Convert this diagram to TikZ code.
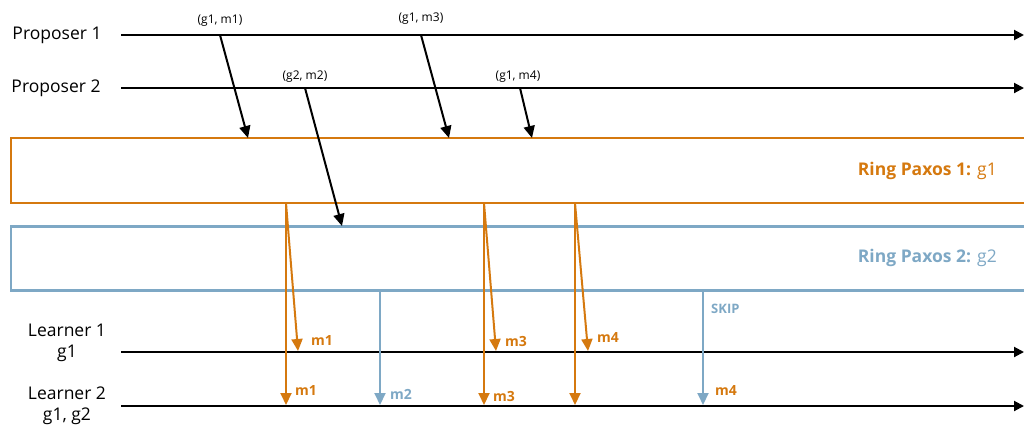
\documentclass[tikz,border=0pt]{standalone}
\usepackage{fontspec}
\setmainfont{Open Sans}
\usetikzlibrary{arrows.meta}
\definecolor{ringorange}{HTML}{D5790F}
\definecolor{ringblue}{HTML}{7EA8C5}
\begin{document}
\begin{tikzpicture}[x=1pt,y=-1pt,
  timeline/.style={line width=2pt,black,-{Triangle[length=10pt,width=10pt]}},
  msg/.style={line width=2pt,black,-{Triangle[length=12pt,width=11pt]}},
  omsg/.style={line width=2pt,ringorange,-{Triangle[length=12pt,width=11pt]}},
  bmsg/.style={line width=2pt,ringblue,-{Triangle[length=12pt,width=11pt]}},
  role/.style={font=\fontsize{17.5}{21}\selectfont,align=center,inner sep=0pt},
  tag/.style={font=\fontsize{12}{14}\selectfont,inner sep=0pt},
  olab/.style={font=\fontsize{14}{16}\selectfont\bfseries,text=ringorange,inner sep=0pt,anchor=west},
  blab/.style={font=\fontsize{14}{16}\selectfont\bfseries,text=ringblue,inner sep=0pt,anchor=west},
  ringbox/.style={draw=#1,line width=2.5pt,minimum width=1040pt,minimum height=65pt,anchor=north west,inner sep=0pt,outer sep=0pt},
  ringtitle/.style={font=\fontsize{17.5}{20}\selectfont,text=#1,anchor=east,inner sep=0pt}]
\clip (0,0) rectangle (1024,428);

% role names
\node[role] (p1) at (57,35) {Proposer 1};
\node[role] (p2) at (56,88) {Proposer 2};
\node[role] (l1) at (67,343) {Learner 1\\g1};
\node[role] (l2) at (67,406) {Learner 2\\g1, g2};

% time lines
\coordinate (p1s) at (121,35);  \coordinate (p1e) at (1024,35);
\coordinate (p2s) at (121,88);  \coordinate (p2e) at (1024,88);
\coordinate (l1s) at (121,352); \coordinate (l1e) at (1024,352);
\coordinate (l2s) at (121,406); \coordinate (l2e) at (1024,406);
\draw[timeline] (p1s) -- (p1e);
\draw[timeline] (p2s) -- (p2e);
\draw[timeline] (l1s) -- (l1e);
\draw[timeline] (l2s) -- (l2e);

% the two rings
\node[ringbox=ringorange] (ring1) at (11,138) {};
\node[ringbox=ringblue,minimum height=64pt] (ring2) at (11,226.5) {};
\node[ringtitle=ringorange] (t1) at (997,171) {\textbf{Ring Paxos 1:} g1};
\node[ringtitle=ringblue] (t2) at (997,258) {\textbf{Ring Paxos 2:} g2};

% proposals
\coordinate (s1) at (220,35);  \coordinate (e1) at (248,138);
\coordinate (s3) at (421,35);  \coordinate (e3) at (449,138);
\coordinate (s2) at (305,88);  \coordinate (e2) at (342,226);
\coordinate (s4) at (520,88);  \coordinate (e4) at (532,138);
\draw[msg] (s1) -- (e1);
\draw[msg] (s3) -- (e3);
\draw[msg] (s2) -- (e2);
\draw[msg] (s4) -- (e4);
\node[tag] (g1m1) at (220,21) {(g1, m1)};
\node[tag] (g1m3) at (421,19) {(g1, m3)};
\node[tag] (g2m2) at (305,77) {(g2, m2)};
\node[tag] (g1m4) at (518,77) {(g1, m4)};

% ring 1 deliveries
\coordinate (a1) at (286,203); \coordinate (a1l1) at (298,351); \coordinate (a1l2) at (286,405);
\coordinate (a3) at (484,203); \coordinate (a3l1) at (496,351); \coordinate (a3l2) at (484,405);
\coordinate (a4) at (575,203); \coordinate (a4l1) at (588,351); \coordinate (a4l2) at (575,405);
\draw[omsg] (a1) -- (a1l1);
\draw[omsg] (a1) -- (a1l2);
\draw[omsg] (a3) -- (a3l1);
\draw[omsg] (a3) -- (a3l2);
\draw[omsg] (a4) -- (a4l1);
\draw[omsg] (a4) -- (a4l2);
\node[olab] (m1a) at (311,340) {m1};
\node[olab] (m1b) at (295,390) {m1};
\node[olab] (m3a) at (505,341) {m3};
\node[olab] (m3b) at (493,396) {m3};
\node[olab] (m4a) at (597,337) {m4};
\node[olab] (m4b) at (715,390) {m4};

% ring 2 deliveries
\coordinate (b2) at (380,290); \coordinate (b2l2) at (380,405);
\coordinate (b4) at (703,290); \coordinate (b4l2) at (703,405);
\draw[bmsg] (b2) -- (b2l2);
\draw[bmsg] (b4) -- (b4l2);
\node[blab] (m2) at (390,394) {m2};
\node[blab,font=\fontsize{13}{15}\selectfont\bfseries] (skip) at (711,309) {SKIP};
\end{tikzpicture}
\end{document}
